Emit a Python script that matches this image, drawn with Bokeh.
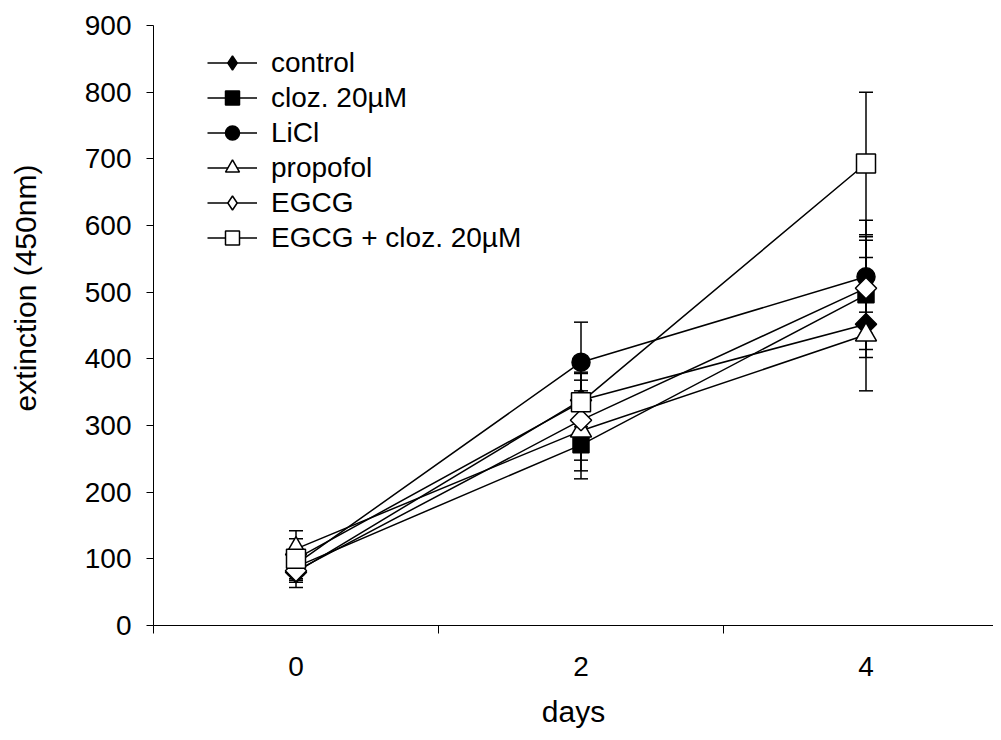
import math
from bokeh.plotting import figure
from bokeh.models import (ColumnDataSource, FixedTicker, SingleIntervalTicker, Whisker,
                          TeeHead, Legend, LegendItem, Range1d)
from bokeh.embed import file_html
from bokeh.resources import INLINE

# ---- data ----
days = ["0", "2", "4"]
series_names = ["control", "cloz. 20µM", "LiCl", "propofol", "EGCG", "EGCG + cloz. 20µM"]

control = [80, 338, 452]
control_err = [15, 40, 100]
cloz = [88, 271, 496]
cloz_err = [20, 51, 82]
licl = [92, 395, 523]
licl_err = [15, 60, 85]
propofol = [115, 292, 436]
propofol_err = [27, 60, 34]
egcg = [82, 308, 506]
egcg_err = [25, 60, 77]
egcg_cloz = [100, 335, 693]
egcg_cloz_err = [30, 45, 107]

y_ticks_interval = 100
y_max = 900
x_title = "days"
y_title = "extinction (450nm)"

FONT = "Liberation Sans"

xs = [i + 0.5 for i in range(len(days))]
bounds = list(range(len(days) + 1))

p = figure(width=993, height=732, output_backend="svg", toolbar_location=None,
           x_range=Range1d(0, 840 / 285), y_range=Range1d(0, y_max),
           min_border_left=153, min_border_right=0, min_border_top=25, min_border_bottom=107)
p.outline_line_color = None
p.grid.visible = False
p.background_fill_color = "white"
p.border_fill_color = "white"

# x axis: labels at category centres, ticks at category boundaries
xa = p.xaxis[0]
xa.ticker = FixedTicker(ticks=xs, minor_ticks=bounds)
xa.major_label_overrides = {x: d for x, d in zip(xs, days)}
xa.major_tick_out = 0
xa.major_tick_in = 0
xa.minor_tick_out = 8
xa.minor_tick_in = 0
xa.minor_tick_line_color = "black"
xa.axis_line_color = "black"
xa.axis_line_width = 1
xa.major_label_text_font = FONT
xa.major_label_text_font_size = "28px"
xa.major_label_text_color = "black"
xa.major_label_standoff = 23
xa.axis_label = x_title
xa.axis_label_text_font = FONT
xa.axis_label_text_font_size = "30px"
xa.axis_label_text_font_style = "normal"
xa.axis_label_text_color = "black"
xa.axis_label_standoff = 16

ya = p.yaxis[0]
ya.ticker = SingleIntervalTicker(interval=y_ticks_interval, num_minor_ticks=0)
ya.major_tick_out = 7
ya.major_tick_in = 0
ya.minor_tick_out = 0
ya.minor_tick_in = 0
ya.major_tick_line_color = "black"
ya.axis_line_color = "black"
ya.axis_line_width = 1
ya.major_label_text_font = FONT
ya.major_label_text_font_size = "28px"
ya.major_label_text_color = "black"
ya.major_label_standoff = 15
# leading non-breaking spaces shift the visible title upwards, as in the reference
ya.axis_label = "\u00a0" * 9 + y_title
ya.axis_label_text_font = FONT
ya.axis_label_text_font_size = "30px"
ya.axis_label_text_font_style = "normal"
ya.axis_label_text_color = "black"
ya.axis_label_standoff = 40

specs = [
    (series_names[0], control, control_err, "square", "black", 15, math.pi / 4, "diamond"),
    (series_names[1], cloz, cloz_err, "square", "black", 16, 0, None),
    (series_names[2], licl, licl_err, "circle", "black", 18, 0, None),
    (series_names[3], propofol, propofol_err, "triangle", "white", 21, 0, None),
    (series_names[4], egcg, egcg_err, "square", "white", 15, math.pi / 4, "diamond"),
    (series_names[5], egcg_cloz, egcg_cloz_err, "square", "white", 19, 0, None),
]

items = []
for name, vals, errs, marker, fill, size, ang, legend_marker in specs:
    src = ColumnDataSource(dict(
        x=xs, y=vals,
        upper=[v + e for v, e in zip(vals, errs)],
        lower=[v - e for v, e in zip(vals, errs)],
    ))
    w = Whisker(source=src, base="x", upper="upper", lower="lower", dimension="height",
                line_color="black", line_width=1.5,
                upper_head=TeeHead(size=14, line_color="black", line_width=1.5),
                lower_head=TeeHead(size=14, line_color="black", line_width=1.5))
    p.add_layout(w)
    ln = p.line("x", "y", source=src, line_color="black", line_width=1.5)
    sc = p.scatter("x", "y", source=src, marker=marker, size=size, angle=ang,
                   fill_color=fill, line_color="black", line_width=1.5)
    if legend_marker:
        # legend-only marker (legend markers are never rotated)
        lg = p.scatter(x=[float("nan")], y=[float("nan")], marker=legend_marker, size=size,
                       fill_color=fill, line_color="black", line_width=1.5)
        items.append(LegendItem(label=name, renderers=[ln, lg]))
    else:
        items.append(LegendItem(label=name, renderers=[ln, sc]))

legend = Legend(items=items, location=(54, 370), glyph_width=50, glyph_height=35,
                label_standoff=14, label_text_font=FONT, label_text_font_size="28px",
                label_text_color="black", spacing=0, padding=0, margin=0,
                border_line_color=None, background_fill_alpha=0)
p.add_layout(legend)

open("out.html", "w").write(file_html(p, INLINE))
